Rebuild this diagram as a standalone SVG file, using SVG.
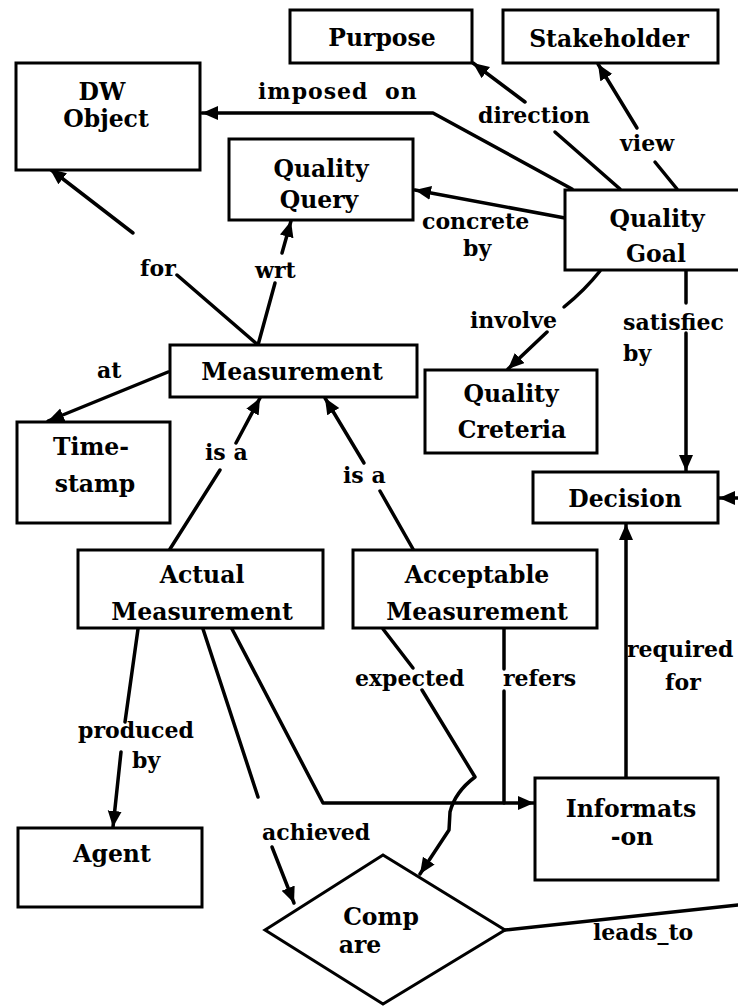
<svg xmlns="http://www.w3.org/2000/svg" width="738" height="1006" viewBox="0 0 738 1006">
  <style>
    .box { fill: #ffffff; stroke: #000000; stroke-width: 3; }
    .edge { fill: none; stroke: #000000; stroke-width: 3.5; stroke-linejoin: round; stroke-linecap: round; }
    .arr { marker-end: url(#head); }
    text { font-family: "DejaVu Serif", "Liberation Serif", serif; font-weight: bold; font-size: 22px; fill: #000000; }
    .node text { text-anchor: middle; font-size: 23.5px; }
    .lbl { font-size: 22px; }
  </style>
  <defs>
    <marker id="head" markerUnits="userSpaceOnUse" markerWidth="18" markerHeight="16" refX="16" refY="7" orient="auto">
      <path d="M0,0 L16,7 L0,14 Z" fill="#000000"/>
    </marker>
  </defs>
  <rect width="738" height="1006" fill="#ffffff"/>

  <!-- connectors -->
  <g id="connectors">
    <!-- imposed on -->
    <path class="edge arr" d="M572,189 L433,113 L202,113"/>
    <!-- direction -->
    <path class="edge" d="M620,189 L555,132"/>
    <path class="edge arr" d="M525,102 L473,63"/>
    <!-- view -->
    <path class="edge" d="M677,189 L655,162"/>
    <path class="edge arr" d="M637,128 L598,64"/>
    <!-- concrete by -->
    <path class="edge arr" d="M565,218 L415,190"/>
    <!-- involve -->
    <path class="edge" d="M600,271 Q585,290 564,307"/>
    <path class="edge arr" d="M547,332 L508,369"/>
    <!-- satisfied by -->
    <path class="edge" d="M686,271 L686,303"/>
    <path class="edge arr" d="M686,333 L686,471"/>
    <!-- for -->
    <path class="edge" d="M258,345 L177,275"/>
    <path class="edge arr" d="M133,233 L50,169"/>
    <!-- wrt -->
    <path class="edge" d="M258,345 L275,283"/>
    <path class="edge arr" d="M282,253 L291,221"/>
    <!-- at -->
    <path class="edge arr" d="M168,372 L48,421"/>
    <!-- is a (actual) -->
    <path class="edge" d="M170,549 L220,470"/>
    <path class="edge arr" d="M236,443 L260,398"/>
    <!-- is a (acceptable) -->
    <path class="edge" d="M413,549 L380,491"/>
    <path class="edge arr" d="M364,463 L325,398"/>
    <!-- produced by -->
    <path class="edge" d="M138,629 L125,722"/>
    <path class="edge arr" d="M121,752 L113,827"/>
    <!-- achieved -->
    <path class="edge" d="M203,629 L258,797"/>
    <path class="edge arr" d="M272,847 L294,903"/>
    <!-- actual measurement to information -->
    <path class="edge arr" d="M232,629 L323,803 L534,803"/>
    <!-- refers -->
    <path class="edge" d="M504,629 L504,669"/>
    <path class="edge" d="M504,691 L504,803"/>
    <!-- expected -->
    <path class="edge" d="M383,629 L413,668"/>
    <path class="edge arr" d="M422,690 L475,777 Q455,792 450,812 L449,830 L420,874"/>
    <!-- required for -->
    <path class="edge arr" d="M626,778 L626,524"/>
    <!-- leads_to -->
    <path class="edge" d="M505,930 L738,905"/>
    <!-- incoming to Decision -->
    <path class="edge arr" d="M740,498 L719,498"/>
  </g>

  <!-- connector labels -->
  <g id="labels" class="lbl">
    <text x="258" y="99" letter-spacing="1" word-spacing="8">imposed on</text>
    <text x="478" y="123">direction</text>
    <text x="620" y="151">view</text>
    <text x="422" y="229">concrete</text>
    <text x="463" y="256">by</text>
    <text x="470" y="328">involve</text>
    <text x="623" y="330">satisfiec</text>
    <text x="623" y="361">by</text>
    <text x="140" y="276">for</text>
    <text x="255" y="278">wrt</text>
    <text x="97" y="378">at</text>
    <text x="205" y="460">is a</text>
    <text x="343" y="483">is a</text>
    <text x="78" y="738">produced</text>
    <text x="132" y="768">by</text>
    <text x="262" y="840">achieved</text>
    <text x="355" y="686">expected</text>
    <text x="503" y="686">refers</text>
    <text x="627" y="657">required</text>
    <text x="665" y="690">for</text>
    <text x="593" y="940">leads_to</text>
  </g>

  <!-- nodes -->
  <g id="purpose" class="node">
    <rect class="box" x="290" y="10" width="182" height="53"/>
    <text x="382" y="46">Purpose</text>
  </g>
  <g id="stakeholder" class="node">
    <rect class="box" x="503" y="10" width="215" height="53"/>
    <text x="609" y="47">Stakeholder</text>
  </g>
  <g id="dw-object" class="node">
    <rect class="box" x="16" y="63" width="184" height="107"/>
    <text x="102" y="100">DW</text>
    <text x="106" y="127">Object</text>
  </g>
  <g id="quality-query" class="node">
    <rect class="box" x="229" y="139" width="184" height="81"/>
    <text x="321" y="177">Quality</text>
    <text x="319" y="208">Query</text>
  </g>
  <g id="quality-goal" class="node">
    <rect class="box" x="565" y="190" width="200" height="80"/>
    <text x="657" y="227">Quality</text>
    <text x="656" y="262">Goal</text>
  </g>
  <g id="measurement" class="node">
    <rect class="box" x="170" y="345" width="247" height="52"/>
    <text x="292" y="380">Measurement</text>
  </g>
  <g id="quality-criteria" class="node">
    <rect class="box" x="425" y="370" width="172" height="83"/>
    <text x="511" y="402">Quality</text>
    <text x="512" y="438">Creteria</text>
  </g>
  <g id="time-stamp" class="node">
    <rect class="box" x="17" y="422" width="153" height="101"/>
    <text x="91" y="455">Time-</text>
    <text x="95" y="492">stamp</text>
  </g>
  <g id="decision" class="node">
    <rect class="box" x="533" y="472" width="185" height="51"/>
    <text x="625" y="507">Decision</text>
  </g>
  <g id="actual-measurement" class="node">
    <rect class="box" x="78" y="550" width="245" height="78"/>
    <text x="202" y="583">Actual</text>
    <text x="202" y="620">Measurement</text>
  </g>
  <g id="acceptable-measurement" class="node">
    <rect class="box" x="353" y="550" width="244" height="78"/>
    <text x="477" y="583">Acceptable</text>
    <text x="477" y="620">Measurement</text>
  </g>
  <g id="information" class="node">
    <rect class="box" x="535" y="778" width="183" height="102"/>
    <text x="631" y="817">Informats</text>
    <text x="632" y="845">-on</text>
  </g>
  <g id="agent" class="node">
    <rect class="box" x="18" y="828" width="184" height="79"/>
    <text x="112" y="862">Agent</text>
  </g>
  <g id="compare" class="node">
    <polygon class="box" points="265,930 383,855 505,930 383,1004"/>
    <text x="381" y="925">Comp</text>
    <text x="360" y="953">are</text>
  </g>
</svg>
